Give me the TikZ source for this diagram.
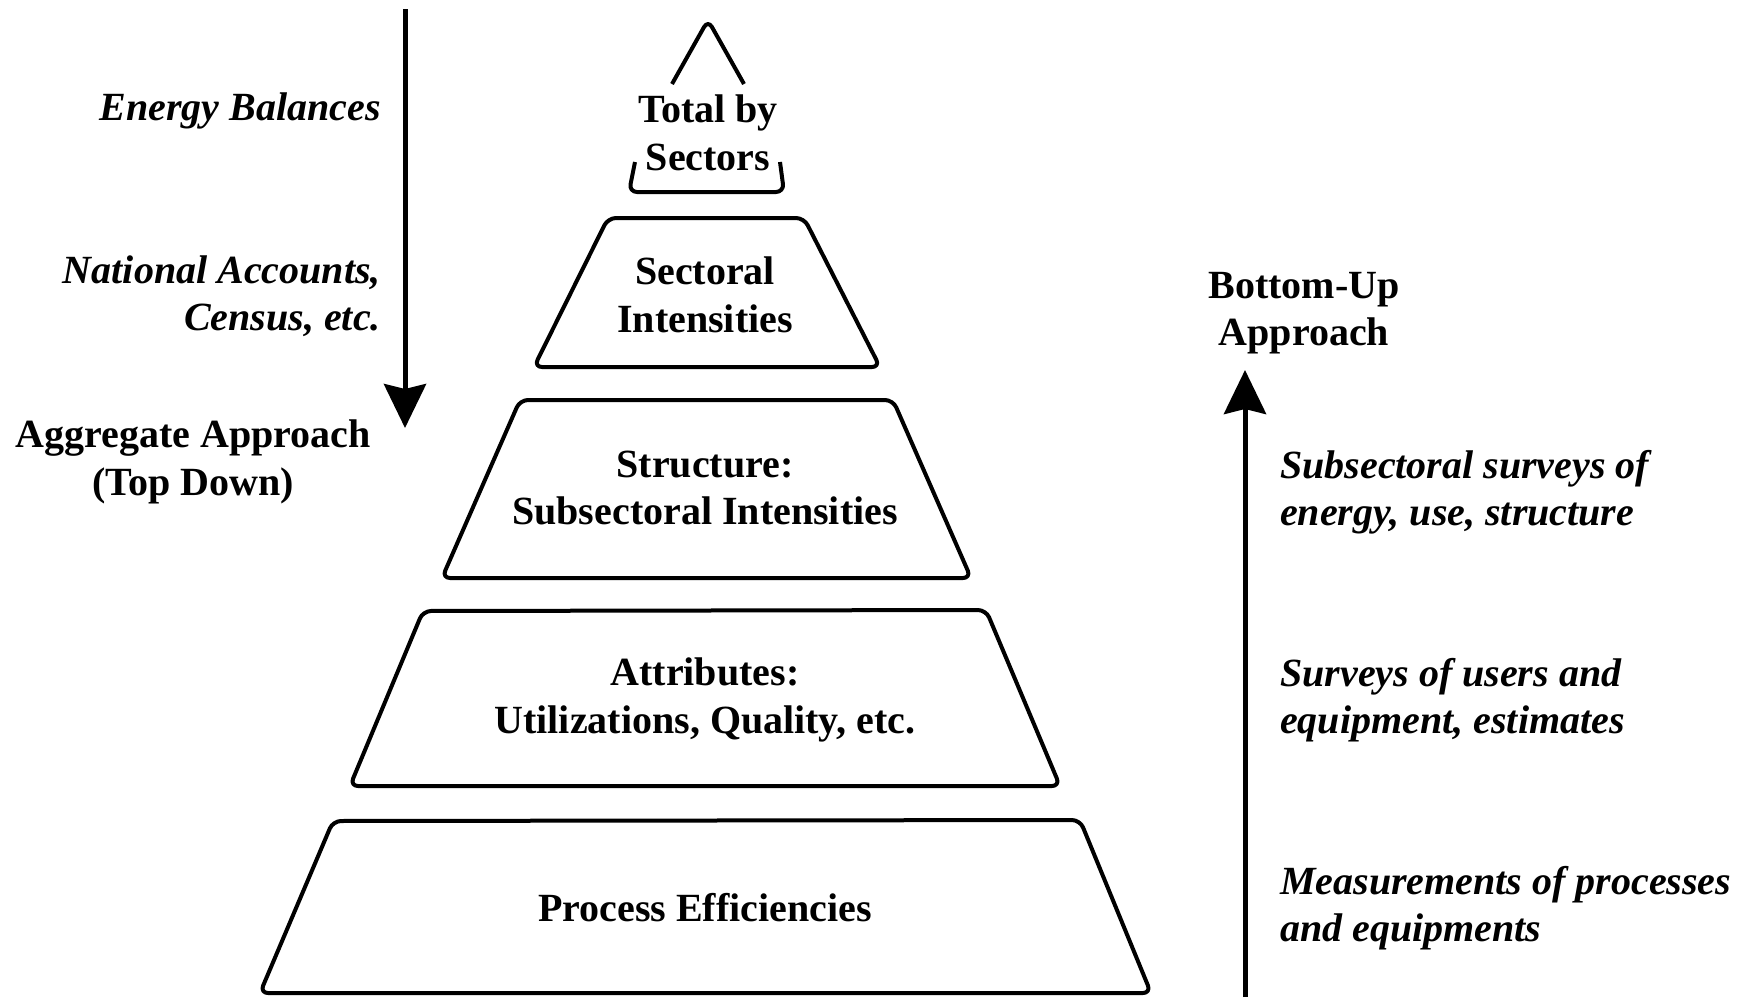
\documentclass[tikz,border=0pt]{standalone}
\usepackage{fontspec}
\setmainfont{Liberation Serif}
\usetikzlibrary{arrows.meta}
\begin{document}
\begin{tikzpicture}[x=1pt,y=-1pt,
  tier/.style={line width=4pt,rounded corners=8pt,line join=round},
  label/.style={inner sep=0pt,font=\fontsize{40}{47.5}\selectfont\bfseries},
  note/.style={label,font=\fontsize{40}{47.5}\selectfont\bfseries\itshape},
  flow/.style={line width=5pt,-{Stealth[length=44pt,width=42pt,inset=5pt]}}]
\useasboundingbox (0,0) rectangle (1746,997);

% pyramid tiers
\draw[tier] (672,84) -- (708,20) -- (744,84);
\draw[tier] (635,162) -- (629,192) -- (784,192) -- (780,162);
\draw[tier] (608,218) -- (804,218) -- (880,367) -- (534,367) -- cycle;
\draw[tier] (520,400) -- (893,400) -- (971,578) -- (442,578) -- cycle;
\draw[tier] (423,611) -- (986,610) -- (1060,786) -- (350,786) -- cycle;
\draw[tier] (333,821) -- (1080,820) -- (1151,993) -- (260,993) -- cycle;

% tier labels
\node[label,align=center] (top) at (708,133) {Total by\\Sectors};
\node[label,align=center] (sect) at (705,295) {Sectoral\\Intensities};
\node[label,align=center] (struc) at (705,488) {Structure:\\Subsectoral Intensities};
\node[label,align=center] (attr) at (705,700) {Attributes:\\Utilizations, Quality, etc.};
\node[label,align=center] (proc) at (705,908) {Process Efficiencies};

% top-down side
\coordinate (tdStart) at (405,9);
\coordinate (tdEnd) at (405,428);
\draw[flow] (tdStart) -- (tdEnd);
\node[note,anchor=east] (eb) at (381,111) {Energy Balances};
\node[note,anchor=east,align=right] (na) at (381,296) {National Accounts,\\Census, etc.};
\node[label,align=center] (agg) at (193,462) {Aggregate Approach\\(Top Down)};

% bottom-up side
\coordinate (buStart) at (1245,997);
\coordinate (buEnd) at (1245,370);
\draw[flow] (buStart) -- (buEnd);
\node[label,align=center] (bu) at (1304,313) {Bottom-Up\\Approach};
\node[note,anchor=west,align=left] (s1) at (1280,492) {Subsectoral surveys of\\energy, use, structure};
\node[note,anchor=west,align=left] (s2) at (1280,700) {Surveys of users and\\equipment, estimates};
\node[note,anchor=west,align=left] (s3) at (1280,908) {Measurements of processes\\and equipments};
\end{tikzpicture}
\end{document}
